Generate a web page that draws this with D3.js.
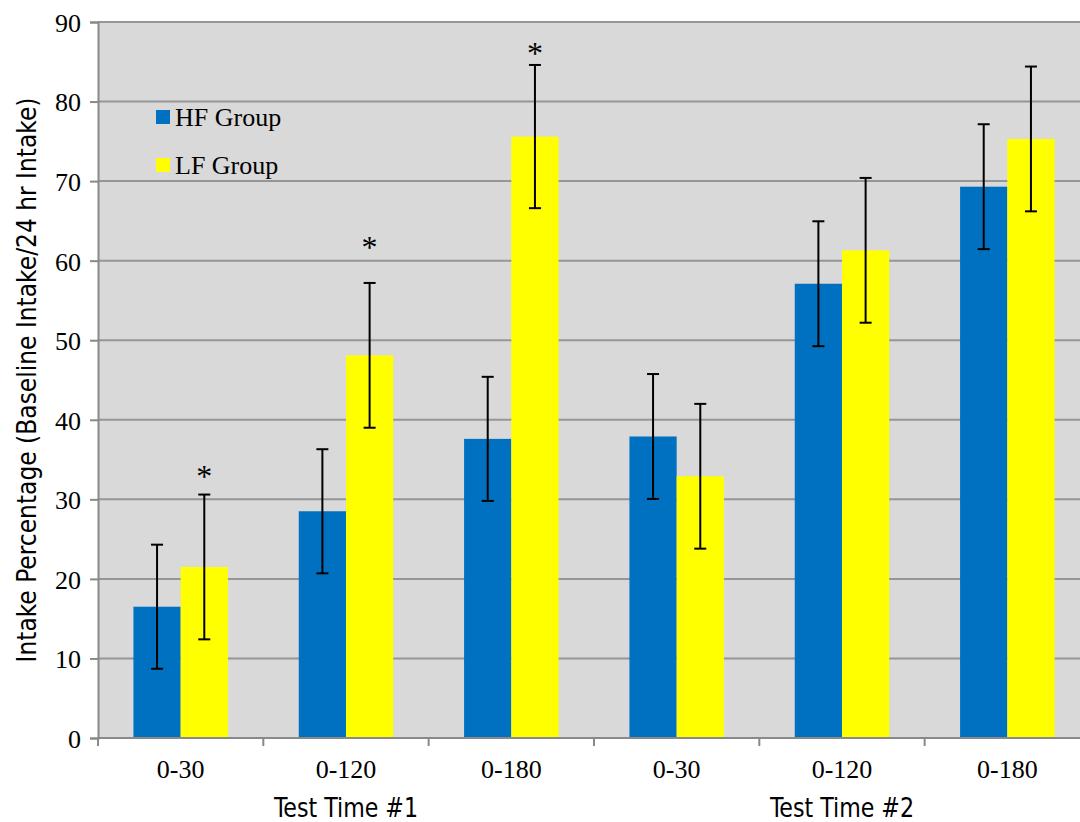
<!DOCTYPE html>
<html lang="en">
<head>
<meta charset="utf-8"/>
<title>Intake percentage</title>
<style>
    body { margin: 0; background: #fff; }
</style>
</head>
<body>
<div class="viz"></div>
<script src="https://cdnjs.cloudflare.com/ajax/libs/d3/7.8.5/d3.min.js"></script>
<script>

var categories = ["0-30", "0-120", "0-180", "0-30", "0-120", "0-180"];
var groupTitles = ["Test Time #1", "Test Time #2"];
var seriesNames = ["HF Group", "LF Group"];
var hfValues = [16.5, 28.5, 37.6, 37.9, 57.1, 69.3];
var lfValues = [21.5, 48.1, 75.6, 32.9, 61.3, 75.3];
var hfErr = [7.8, 7.8, 7.8, 7.85, 7.85, 7.85];
var lfErr = [9.1, 9.1, 9.0, 9.1, 9.1, 9.1];
// asterisk positions (in y units) above LF bars, null = none
var starAt = [33.4, 62.2, 86.6, null, null, null];
var yTicks = [0, 10, 20, 30, 40, 50, 60, 70, 80, 90];

var colors = ["#0070C0", "#FFFF00"];
var serif = '"Liberation Serif", "Times New Roman", serif';
var narrow = '"DejaVu Sans Condensed", "Liberation Sans Narrow", sans-serif';

var width = 1080, height = 822;
var margin = {top: 22, left: 98, bottom: 84, right: -10};

var svg = d3.select(".viz").append("svg")
    .attr("width", width)
    .attr("height", height);

var x0 = d3.scaleBand()
    .domain(d3.range(categories.length))
    .range([margin.left, width - margin.right])
    .paddingInner(0)
    .paddingOuter(0);

var x1 = d3.scaleBand()
    .domain([0, 1])
    .range([0, x0.bandwidth()])
    .paddingInner(0)
    .paddingOuter(0.75);

var y = d3.scaleLinear()
    .domain([0, 90])
    .range([height - margin.bottom, margin.top]);

var x0Left = margin.left, xRight = width - margin.right;

// plot background
svg.append("rect")
    .attr("x", x0Left)
    .attr("y", y(90))
    .attr("width", xRight - x0Left)
    .attr("height", y(0) - y(90))
    .attr("fill", "#D9D9D9");

// gridlines
svg.append("g").selectAll("line")
    .data(yTicks.filter(function(d) { return d > 0; }))
    .enter().append("line")
    .attr("x1", x0Left)
    .attr("x2", xRight)
    .attr("y1", function(d) { return y(d); })
    .attr("y2", function(d) { return y(d); })
    .attr("stroke", "#969696")
    .attr("stroke-width", 2);

// bars
var rows = categories.map(function(c, i) {
    return [
        {i: i, s: 0, v: hfValues[i], e: hfErr[i]},
        {i: i, s: 1, v: lfValues[i], e: lfErr[i]}
    ];
});

var groups = svg.append("g").selectAll("g")
    .data(rows)
    .enter().append("g")
    .attr("transform", function(d, i) { return "translate(" + x0(i) + ",0)"; });

groups.selectAll("rect")
    .data(function(d) { return d; })
    .enter().append("rect")
    .attr("x", function(d) { return x1(d.s); })
    .attr("width", x1.bandwidth())
    .attr("y", function(d) { return y(d.v); })
    .attr("height", function(d) { return y(0) - y(d.v); })
    .attr("fill", function(d) { return colors[d.s]; });

// error bars
var eb = groups.selectAll("g.err")
    .data(function(d) { return d; })
    .enter().append("g")
    .attr("class", "err")
    .attr("stroke", "#000")
    .attr("stroke-width", 2);

eb.append("line")
    .attr("x1", function(d) { return x1(d.s) + x1.bandwidth() / 2; })
    .attr("x2", function(d) { return x1(d.s) + x1.bandwidth() / 2; })
    .attr("y1", function(d) { return y(d.v + d.e); })
    .attr("y2", function(d) { return y(d.v - d.e); });

eb.selectAll("line.cap")
    .data(function(d) { return [d.v + d.e, d.v - d.e].map(function(v) { return {s: d.s, v: v}; }); })
    .enter().append("line")
    .attr("class", "cap")
    .attr("x1", function(d) { return x1(d.s) + x1.bandwidth() / 2 - 6; })
    .attr("x2", function(d) { return x1(d.s) + x1.bandwidth() / 2 + 6; })
    .attr("y1", function(d) { return y(d.v); })
    .attr("y2", function(d) { return y(d.v); });

// significance asterisks
groups.filter(function(d, i) { return starAt[i] != null; })
    .append("text")
    .attr("x", x1(1) + x1.bandwidth() / 2)
    .attr("y", function(d) { return y(starAt[d[0].i]) + 15; })
    .attr("text-anchor", "middle")
    .style("font-family", serif)
    .style("font-size", "32px")
    .text("*");

// y axis
var yAxis = d3.axisLeft(y)
    .tickValues(yTicks)
    .tickSize(8)
    .tickPadding(9)
    .tickFormat(d3.format("d"));

var gy = svg.append("g")
    .attr("transform", "translate(" + x0Left + ",0)")
    .call(yAxis);
gy.select(".domain").attr("stroke", "#898989").attr("stroke-width", 2);
gy.selectAll(".tick line").attr("stroke", "#898989").attr("stroke-width", 2);
gy.selectAll(".tick text")
    .attr("dy", "0.36em")
    .attr("fill", "#000")
    .style("font-family", serif)
    .style("font-size", "26px");

// x axis baseline and category boundary ticks
svg.append("line")
    .attr("x1", x0Left).attr("x2", xRight)
    .attr("y1", y(0)).attr("y2", y(0))
    .attr("stroke", "#898989").attr("stroke-width", 2);

svg.append("g").selectAll("line")
    .data(d3.range(categories.length + 1))
    .enter().append("line")
    .attr("x1", function(i) { return x0Left + i * x0.bandwidth(); })
    .attr("x2", function(i) { return x0Left + i * x0.bandwidth(); })
    .attr("y1", y(0))
    .attr("y2", y(0) + 8)
    .attr("stroke", "#898989").attr("stroke-width", 2);

svg.append("g").selectAll("text")
    .data(categories)
    .enter().append("text")
    .attr("x", function(d, i) { return x0(i) + x0.bandwidth() / 2; })
    .attr("y", 778)
    .attr("text-anchor", "middle")
    .style("font-family", serif)
    .style("font-size", "26px")
    .text(function(d) { return d; });

svg.append("g").selectAll("text")
    .data(groupTitles)
    .enter().append("text")
    .attr("x", function(d, i) { return x0(i * 3) + x0.bandwidth() * 1.5; })
    .attr("y", 817)
    .attr("text-anchor", "middle")
    .attr("textLength", 144)
    .attr("lengthAdjust", "spacingAndGlyphs")
    .style("font-family", narrow)
    .style("font-size", "27px")
    .text(function(d) { return d; });

// y axis title
svg.append("text")
    .attr("transform", "translate(36," + 380 + ") rotate(-90)")
    .attr("text-anchor", "middle")
    .attr("textLength", 565)
    .attr("lengthAdjust", "spacingAndGlyphs")
    .style("font-family", narrow)
    .style("font-size", "27px")
    .text("Intake Percentage (Baseline Intake/24 hr Intake)");

// legend
var legend = svg.append("g").selectAll("g")
    .data(seriesNames)
    .enter().append("g")
    .attr("transform", function(d, i) { return "translate(156," + (110 + i * 48) + ")"; });

legend.append("rect")
    .attr("width", 14)
    .attr("height", 14)
    .attr("fill", function(d, i) { return colors[i]; });

legend.append("text")
    .attr("x", 19)
    .attr("y", 16)
    .style("font-family", serif)
    .style("font-size", "26px")
    .text(function(d) { return d; });

</script>
</body>
</html>
